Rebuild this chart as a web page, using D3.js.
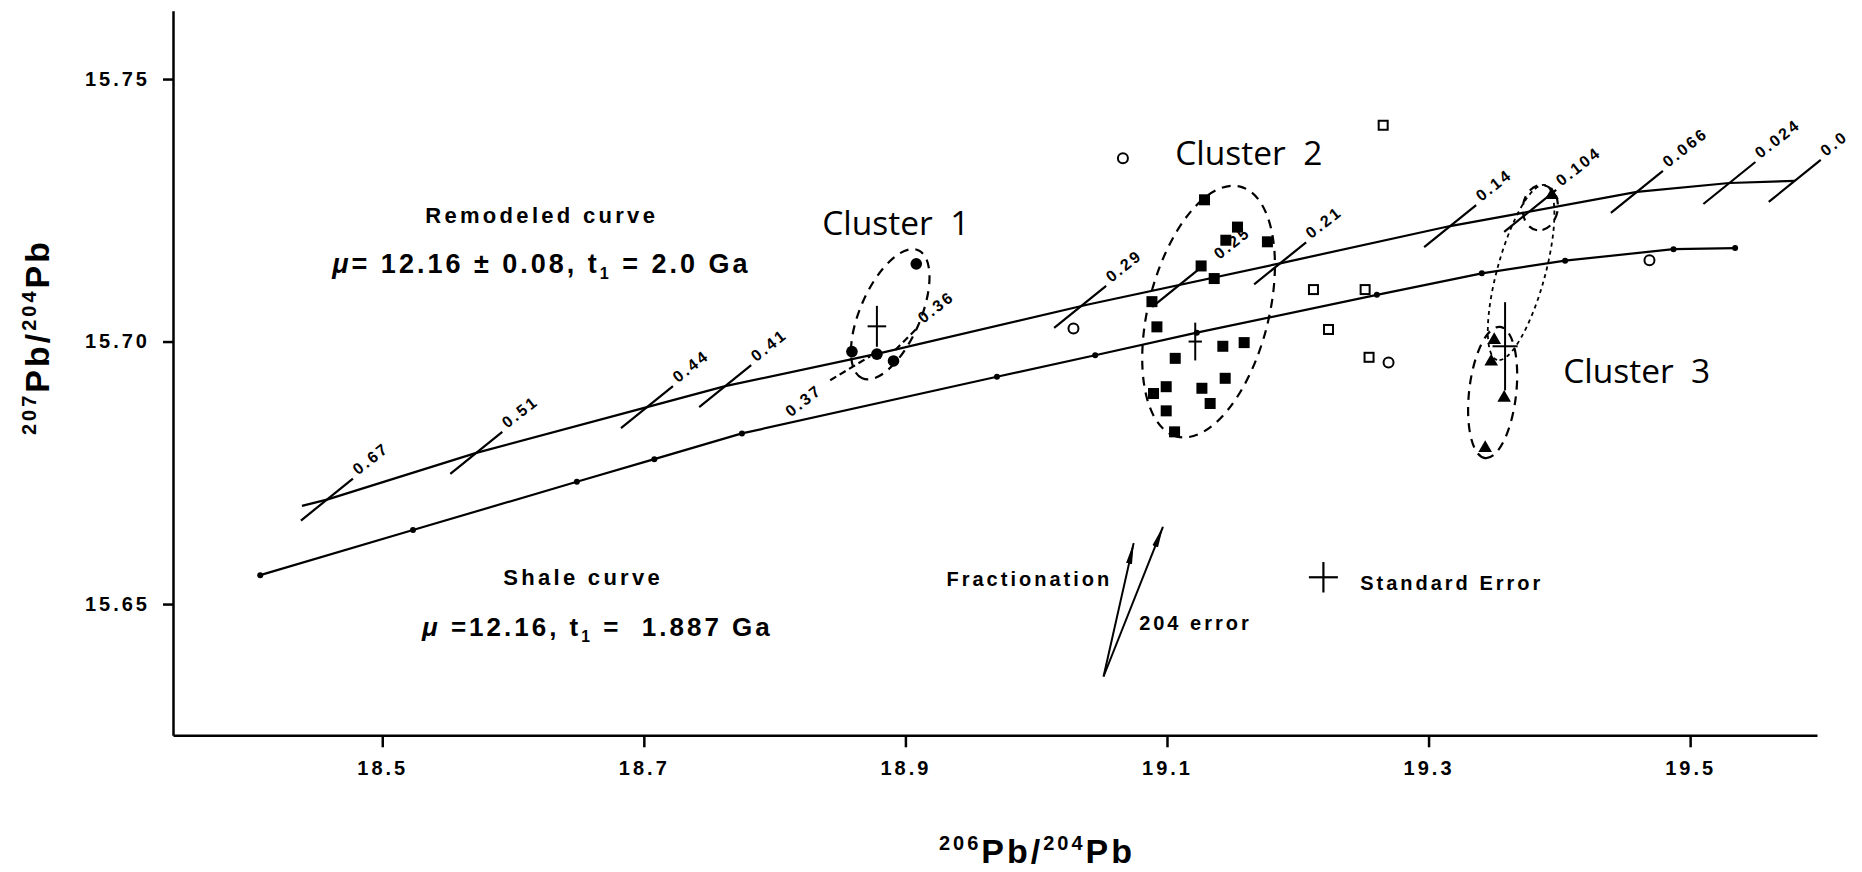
<!DOCTYPE html>
<html>
<head>
<meta charset="utf-8">
<script src="https://cdn.jsdelivr.net/npm/d3@7"></script>
<style>
body { margin: 0; background: #fff; }
svg { display: block; }
text { font-family: "Liberation Sans", Arial, sans-serif; fill: #000; white-space: pre; }
.axis path, .axis line { stroke: #000; stroke-width: 2.5; }
.axis text { font-size: 20px; font-weight: bold; letter-spacing: 3px; }
.title { font-size: 34px; font-weight: bold; letter-spacing: 3px; }
.curve-name { font-size: 22px; font-weight: bold; letter-spacing: 3.3px; }
.mark-label { font-size: 16px; font-weight: bold; letter-spacing: 2.5px; }
.cluster { font-family: "Open Sans", "DejaVu Sans", sans-serif; font-size: 33.5px; }
.legend { font-size: 20px; font-weight: bold; letter-spacing: 3px; }
</style>
</head>
<body>
<svg id="chart"></svg>
<script>
var svg_width = 1862
var svg_height = 872

// tick values
var xTicks = [18.5, 18.7, 18.9, 19.1, 19.3, 19.5];
var yTicks = [15.65, 15.70, 15.75];

// remodeled growth curve (mu = 12.16 +- 0.08, t1 = 2.0 Ga)
var remodeledCurve = [
    [18.4386, 15.6687], [18.4577, 15.6699], [18.5719, 15.6788], [18.7024, 15.6875],
    [18.7622, 15.6915], [18.8807, 15.6978], [19.0388, 15.7070], [19.1865, 15.7149],
    [19.3165, 15.7220], [19.3700, 15.7244], [19.4593, 15.7285], [19.5300, 15.7302],
    [19.5800, 15.7306]
];

// age marks (Ga) on the remodeled curve: x, y, label, which half of the hash
var curveMarks = [
    [18.4577, 15.6699, "0.67", "both"],
    [18.5719, 15.6788, "0.51", "both"],
    [18.7024, 15.6875, "0.44", "both"],
    [18.7622, 15.6915, "0.41", "both"],
    [18.8746, 15.6972, "0.37", "lower"],
    [18.8907, 15.6982, "0.36", "upper"],
    [19.0336, 15.7066, "0.29", "both"],
    [19.1086, 15.7106, "0.25", "both"],
    [19.1865, 15.7149, "0.21", "both"],
    [19.3165, 15.7220, "0.14", "both"],
    [19.3777, 15.7249, "0.104", "both"],
    [19.4593, 15.7285, "0.066", "both"],
    [19.5300, 15.7302, "0.024", "both"],
    [19.5800, 15.7306, "0.0", "both"]
];

// shale curve (mu = 12.16, t1 = 1.887 Ga), dotted nodes
var shaleCurve = [
    [18.4067, 15.6555], [18.5235, 15.6641], [18.6488, 15.6733], [18.7080, 15.6776],
    [18.7750, 15.6825], [18.9700, 15.6933], [19.0451, 15.6974], [19.1228, 15.7017],
    [19.2605, 15.7089], [19.3407, 15.7130], [19.4044, 15.7154], [19.4873, 15.7176],
    [19.5344, 15.7178]
];

// samples
var cluster1 = [[18.9083, 15.7148], [18.8591, 15.6981], [18.8782, 15.6976], [18.8909, 15.6963]];
var cluster2 = [
    [19.1287, 15.7270], [19.1539, 15.7218], [19.1450, 15.7193], [19.1768, 15.7190],
    [19.1261, 15.7144], [19.1361, 15.7120], [19.0885, 15.7076], [19.0923, 15.7028],
    [19.1063, 15.6968], [19.1427, 15.6991], [19.1590, 15.6998], [19.1445, 15.6930],
    [19.0994, 15.6914], [19.0897, 15.6901], [19.1267, 15.6911], [19.1330, 15.6882],
    [19.0994, 15.6868], [19.1058, 15.6828]
];
var cluster3 = [[19.3502, 15.7003], [19.3479, 15.6962], [19.3578, 15.6893], [19.3433, 15.6797], [19.3943, 15.7279]];
var openSquares = [[19.2653, 15.7412], [19.2120, 15.7099], [19.2515, 15.7099], [19.2235, 15.7023], [19.2545, 15.6970]];
var openCircles = [[19.0663, 15.7349], [19.0285, 15.7025], [19.2694, 15.6960], [19.4689, 15.7155]];

// standard error crosses: x, y, half width, half height
var errorCrosses = [
    [18.8782, 15.7029, 0.0071, 0.0039],
    [19.1216, 15.7000, 0.0051, 0.0036],
    [19.3585, 15.6991, 0.0096, 0.0084]
];
var legendCross = [19.2196, 15.6551, 0.0111, 0.0029];

// enclosing ellipses: major axis ends (x1, y1, x2, y2), semi-minor in x units, line kind
var enclosures = [
    [18.9098, 15.7174, 18.8670, 15.6930, 0.023, "dashed"],
    [19.1560, 15.7295, 19.1076, 15.6819, 0.046, "dashed"],
    [19.3547, 15.7028, 19.3433, 15.6778, 0.018, "dashed"],
    [19.3891, 15.7298, 19.3524, 15.6965, 0.0183, "dotted"],
    [19.3879, 15.7298, 19.3830, 15.7212, 0.0134, "dashed"]
];

// fractionation and 204 error vectors
var fractionationArrow = [[19.0515, 15.6362], [19.0745, 15.6616]];
var error204Arrow = [[19.0515, 15.6362], [19.0969, 15.6647]];

// text annotations
var curveNames = [["Remodeled curve", 18.5329, 15.7226], ["Shale curve", 18.5925, 15.6536]];
var curveParams = [
    [["μ", "= 12.16 ± 0.08, t", "1", " = 2.0 Ga"], 18.4618, 15.7130, 27, 3],
    [["μ", " =12.16, t", "1", " =  1.887 Ga"], 18.5304, 15.6439, 26, 3]
];
var clusterNames = [["Cluster  1", 18.8364, 15.7203], ["Cluster  2", 19.1063, 15.7336], ["Cluster  3", 19.4029, 15.6921]];
var legendTexts = [["Fractionation", 19.0581, 15.6534, "end"], ["204 error", 19.0787, 15.6450, "start"], ["Standard Error", 19.2477, 15.6527, "start"]];

//SCALES
var xScale = d3.scaleLinear().domain([18.34, 19.597]).range([173, 1817]);
var yScale = d3.scaleLinear().domain([15.625, 15.763]).range([735.3, 10.8]);

var svg = d3.select("#chart")
    .attr("width", svg_width)
    .attr("height", svg_height);

svg.append("defs").append("marker")
    .attr("id", "head")
    .attr("viewBox", "0 0 22 7")
    .attr("refX", 21).attr("refY", 3.5)
    .attr("markerWidth", 22).attr("markerHeight", 7)
    .attr("markerUnits", "userSpaceOnUse")
    .attr("orient", "auto")
  .append("path")
    .attr("d", "M0,0.5 L22,3.5 L0,6.5 Z")
    .attr("fill", "#000");

// AXES
var xAxis = d3.axisBottom(xScale)
    .tickValues(xTicks)
    .tickFormat(d3.format(".1f"))
    .tickSize(12)
    .tickSizeOuter(0)
    .tickPadding(14);
var yAxis = d3.axisLeft(yScale)
    .tickValues(yTicks)
    .tickFormat(d3.format(".2f"))
    .tickSize(10)
    .tickSizeOuter(0)
    .tickPadding(13);

svg.append("g")
    .attr("class", "axis")
    .attr("transform", "translate(0, " + yScale.range()[0] + ")")
    .call(xAxis);
svg.append("g")
    .attr("class", "axis")
    .attr("transform", "translate(" + xScale.range()[0] + ", 0)")
    .call(yAxis);

// axis titles with mass-number superscripts
function isotopeTitle(sel, a, b) {
    sel.append("tspan").attr("font-size", 20).attr("dy", -13).text(a);
    sel.append("tspan").attr("dy", 13).text("Pb/");
    sel.append("tspan").attr("font-size", 20).attr("dy", -13).text(b);
    sel.append("tspan").attr("dy", 13).text("Pb");
}
svg.append("text")
    .attr("class", "title")
    .attr("x", 1037).attr("y", 863)
    .attr("text-anchor", "middle")
    .call(isotopeTitle, "206", "204");
svg.append("text")
    .attr("class", "title")
    .attr("transform", "translate(49, 337) rotate(-90)")
    .attr("text-anchor", "middle")
    .call(isotopeTitle, "207", "204");

// CURVES
var line = d3.line()
    .x(function(d) { return xScale(d[0]); })
    .y(function(d) { return yScale(d[1]); });

svg.append("path")
    .datum(remodeledCurve)
    .attr("d", line)
    .attr("fill", "none")
    .attr("stroke", "#000")
    .attr("stroke-width", 2.2);

svg.append("path")
    .datum(shaleCurve)
    .attr("d", line)
    .attr("fill", "none")
    .attr("stroke", "#000")
    .attr("stroke-width", 2.2);

svg.selectAll(".node")
    .data(shaleCurve)
    .enter()
    .append("circle")
      .attr("cx", function(d) { return xScale(d[0]); })
      .attr("cy", function(d) { return yScale(d[1]); })
      .attr("r", 3)
      .attr("fill", "#000");

// ENCLOSURES
enclosures.forEach(function(e) {
    var ax = xScale(e[0]), ay = yScale(e[1]), bx = xScale(e[2]), by = yScale(e[3]);
    var cx = (ax + bx) / 2, cy = (ay + by) / 2;
    var a = Math.sqrt((ax - bx) * (ax - bx) + (ay - by) * (ay - by)) / 2;
    var b = xScale(e[0] + e[4]) - xScale(e[0]);
    var ang = Math.atan2(by - ay, bx - ax) * 180 / Math.PI;
    svg.append("ellipse")
        .attr("cx", cx).attr("cy", cy)
        .attr("rx", a).attr("ry", b)
        .attr("transform", "rotate(" + ang + "," + cx + "," + cy + ")")
        .attr("fill", "none")
        .attr("stroke", "#000")
        .attr("stroke-width", e[5] === "dotted" ? 1.8 : 2.2)
        .attr("stroke-dasharray", e[5] === "dotted" ? "4,4" : "9,7");
});

// POINTS
svg.selectAll(".c1")
    .data(cluster1)
    .enter()
    .append("circle")
      .attr("cx", function(d) { return xScale(d[0]); })
      .attr("cy", function(d) { return yScale(d[1]); })
      .attr("r", 5.8)
      .attr("fill", "#000");

svg.selectAll(".c2")
    .data(cluster2)
    .enter()
    .append("rect")
      .attr("x", function(d) { return xScale(d[0]) - 5.5; })
      .attr("y", function(d) { return yScale(d[1]) - 5.5; })
      .attr("width", 11).attr("height", 11)
      .attr("fill", "#000");

svg.selectAll(".c3")
    .data(cluster3)
    .enter()
    .append("path")
      .attr("d", d3.symbol(d3.symbolTriangle).size(80))
      .attr("transform", function(d) { return "translate(" + xScale(d[0]) + "," + yScale(d[1]) + ")"; })
      .attr("fill", "#000");

svg.selectAll(".osq")
    .data(openSquares)
    .enter()
    .append("rect")
      .attr("x", function(d) { return xScale(d[0]) - 4.5; })
      .attr("y", function(d) { return yScale(d[1]) - 4.5; })
      .attr("width", 9).attr("height", 9)
      .attr("fill", "#fff")
      .attr("stroke", "#000")
      .attr("stroke-width", 2);

svg.selectAll(".oc")
    .data(openCircles)
    .enter()
    .append("circle")
      .attr("cx", function(d) { return xScale(d[0]); })
      .attr("cy", function(d) { return yScale(d[1]); })
      .attr("r", 5)
      .attr("fill", "#fff")
      .attr("stroke", "#000")
      .attr("stroke-width", 2);

// age hashes and labels (drawn above the points)
var hx = 26, hy = 21;
curveMarks.forEach(function(m) {
    var cx = xScale(m[0]), cy = yScale(m[1]);
    var x1 = cx - hx, y1 = cy + hy, x2 = cx + hx, y2 = cy - hy;
    if (m[3] === "lower") { x1 = cx - 42; y1 = cy + 24; x2 = cx - 2; y2 = cy; }
    if (m[3] === "upper") { x1 = cx + 2; y1 = cy - 1; x2 = cx + 25; y2 = cy - 24; }
    svg.append("line")
        .attr("x1", x1).attr("y1", y1).attr("x2", x2).attr("y2", y2)
        .attr("stroke", "#000").attr("stroke-width", 2.2)
        .attr("stroke-dasharray", m[3] === "both" ? null : "7,4");
    var lx, ly, anchor;
    if (m[3] === "lower") { lx = cx - 49; ly = cy + 36; anchor = "end"; }
    else { lx = x2 + 5; ly = y2 - 3; anchor = "start"; }
    if (m[2] === "0.25") { lx += 10; ly -= 2; }
    svg.append("text")
        .attr("class", "mark-label")
        .attr("text-anchor", anchor)
        .attr("transform", "translate(" + lx + "," + ly + ") rotate(-38)")
        .text(m[2]);
});

// standard error crosses
function drawCross(c, w) {
    var g = svg.append("g").attr("stroke", "#000").attr("stroke-width", w);
    g.append("line")
        .attr("x1", xScale(c[0])).attr("x2", xScale(c[0]))
        .attr("y1", yScale(c[1] - c[3])).attr("y2", yScale(c[1] + c[3]));
    g.append("line")
        .attr("x1", xScale(c[0] - c[2])).attr("x2", xScale(c[0] + c[2]))
        .attr("y1", yScale(c[1])).attr("y2", yScale(c[1]));
}
errorCrosses.forEach(function(c) { drawCross(c, 2); });
drawCross(legendCross, 2.2);

// fractionation vectors
[fractionationArrow, error204Arrow].forEach(function(a) {
    svg.append("line")
        .attr("x1", xScale(a[0][0])).attr("y1", yScale(a[0][1]))
        .attr("x2", xScale(a[1][0])).attr("y2", yScale(a[1][1]))
        .attr("stroke", "#000").attr("stroke-width", 2)
        .attr("marker-end", "url(#head)");
});

// TEXT
curveNames.forEach(function(t) {
    svg.append("text")
        .attr("class", "curve-name")
        .attr("x", xScale(t[1])).attr("y", yScale(t[2]))
        .text(t[0]);
});

curveParams.forEach(function(p) {
    var t = svg.append("text")
        .attr("x", xScale(p[1])).attr("y", yScale(p[2]))
        .attr("font-size", p[3])
        .attr("font-weight", "bold")
        .attr("letter-spacing", p[4] + "px");
    t.append("tspan").attr("font-style", "italic").text(p[0][0]);
    t.append("tspan").text(p[0][1]);
    t.append("tspan").attr("font-size", p[3] * 0.6).attr("dy", 6).text(p[0][2]);
    t.append("tspan").attr("dy", -6).text(p[0][3]);
});

clusterNames.forEach(function(c) {
    svg.append("text")
        .attr("class", "cluster")
        .attr("x", xScale(c[1])).attr("y", yScale(c[2]))
        .text(c[0]);
});

legendTexts.forEach(function(l) {
    svg.append("text")
        .attr("class", "legend")
        .attr("x", xScale(l[1])).attr("y", yScale(l[2]))
        .attr("text-anchor", l[3])
        .text(l[0]);
});
</script>
</body>
</html>
